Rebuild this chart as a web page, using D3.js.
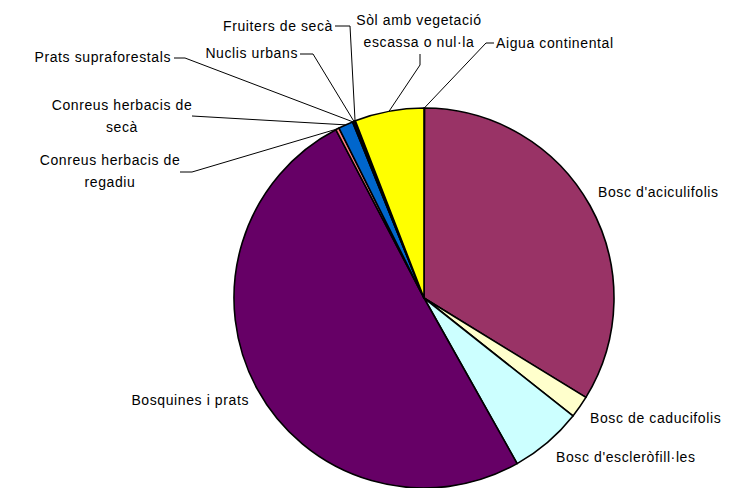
<!DOCTYPE html>
<html><head><meta charset="utf-8">
<script src="https://cdn.jsdelivr.net/npm/d3@7"></script>
<style>body{margin:0;background:#fff}svg{display:block}text{font-family:"Liberation Sans",Arial,sans-serif;font-size:14px;fill:#000;letter-spacing:0.6px}</style>
</head><body><svg id="c" width="737" height="488"></svg>
<script>
const categories = ["Aigua continental","Bosc d'aciculifolis","Bosc de caducifolis","Bosc d'escleròfill·les","Bosquines i prats","Conreus herbacis de regadiu","Conreus herbacis de secà","Prats supraforestals","Nuclis urbans","Fruiters de secà","Sòl amb vegetació escassa o nul·la"];
const values = [0.05,33.8,1.9,6.2,50.6,0.3,1.25,0.05,0.15,0.05,5.9];
const colors = ["#9999FF","#993366","#FFFFCC","#CCFFFF","#660066","#FF8080","#0066CC","#CCCCFF","#000080","#FF00FF","#FFFF00"];
// label layout: text lines, anchor point, text-anchor, leader elbow points (null = no leader)
const labelLines = [["Aigua continental"],["Bosc d'aciculifolis"],["Bosc de caducifolis"],["Bosc d'escleròfill·les"],["Bosquines i prats"],["Conreus herbacis de","regadiu"],["Conreus herbacis de","secà"],["Prats supraforestals"],["Nuclis urbans"],["Fruiters de secà"],["Sòl amb vegetació","escassa o nul·la"]];
const labelPos = [[496,48,"start"],[598,197,"start"],[590,423,"start"],[556,462,"start"],[249,405,"end"],[110,165,"middle"],[122,110,"middle"],[171,62,"end"],[298,58,"end"],[333,31,"end"],[419,25,"middle"]];
const leaders = [[[494,43],[486,43]],null,null,null,null,[[180,172],[192,172]],[[192,116]],[[174,58],[185,58]],[[300,54],[313,54]],[[335,26],[350,26]],[[420,54],[420,65]]];

const cx = 424, cy = 298, R = 190;
const svg = d3.select("#c");
const g = svg.append("g").attr("transform", `translate(${cx},${cy})`);
const pie = d3.pie().sort(null).value(d => d)(values);
const arc = d3.arc().innerRadius(0).outerRadius(R);
const edge = d3.arc().innerRadius(R).outerRadius(R);
g.selectAll("path").data(pie).join("path")
  .attr("d", arc).attr("fill", (d,i) => colors[i])
  .attr("stroke", "#000").attr("stroke-width", 1.6).attr("stroke-linejoin","round");

// leaders
pie.forEach((d,i) => {
  if (!leaders[i]) return;
  const c = edge.centroid(d);
  const pts = leaders[i].concat([[c[0]+cx, c[1]+cy]]);
  svg.append("path").attr("d", d3.line()(pts)).attr("fill","none").attr("stroke","#000").attr("stroke-width",1);
});
// labels
labelLines.forEach((lines,i) => {
  const [x,y,a] = labelPos[i];
  const t = svg.append("text").attr("x",x).attr("y",y).attr("text-anchor",a);
  lines.forEach((l,k) => t.append("tspan").attr("x",x).attr("dy", k===0?0:22).text(l));
});
</script></body></html>
